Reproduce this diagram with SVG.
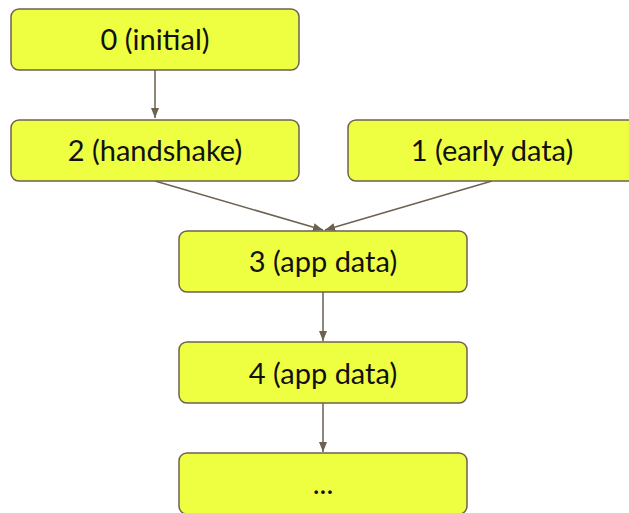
<svg xmlns="http://www.w3.org/2000/svg" width="629" height="513" viewBox="0 0 629 513">
<style>
.box{fill:#eeff41;stroke:#6d6150;stroke-width:1.5}
.lbl{font-family:Lato,"Liberation Sans",sans-serif;font-size:29px;fill:#111;text-anchor:middle}
.edge{stroke:#6d6150;stroke-width:1.5;fill:none}
</style>
<defs>
<marker id="ah" viewBox="0 0 10 10" refX="10" refY="5" markerWidth="10" markerHeight="10" markerUnits="userSpaceOnUse" orient="auto">
<path d="M0,1 L10,5 L0,9 Z" fill="#6d6150"/>
</marker>
</defs>
<g id="connectors">
<line class="edge" x1="155" y1="70" x2="155" y2="118" marker-end="url(#ah)"/>
<line class="edge" x1="155" y1="181" x2="323" y2="230" marker-end="url(#ah)"/>
<line class="edge" x1="492" y1="181" x2="325" y2="230" marker-end="url(#ah)"/>
<line class="edge" x1="323" y1="292" x2="323" y2="341" marker-end="url(#ah)"/>
<line class="edge" x1="323" y1="403" x2="323" y2="452" marker-end="url(#ah)"/>
</g>
<g id="n0"><rect class="box" x="11" y="9" width="288" height="61" rx="8"/><text class="lbl" x="155" y="49.5">0 (initial)</text></g>
<g id="n2"><rect class="box" x="11" y="120" width="288" height="61" rx="8"/><text class="lbl" x="155" y="160.5">2 (handshake)</text></g>
<g id="n1"><rect class="box" x="348" y="120" width="288" height="61" rx="8"/><text class="lbl" x="492" y="160.5">1 (early data)</text></g>
<g id="n3"><rect class="box" x="179" y="231" width="288" height="61" rx="8"/><text class="lbl" x="323" y="272">3 (app data)</text></g>
<g id="n4"><rect class="box" x="179" y="342" width="288" height="61" rx="8"/><text class="lbl" x="323" y="383.5">4 (app data)</text></g>
<g id="n5"><rect class="box" x="179" y="453" width="288" height="61" rx="8"/><text class="lbl" x="323" y="494">...</text></g>
</svg>
